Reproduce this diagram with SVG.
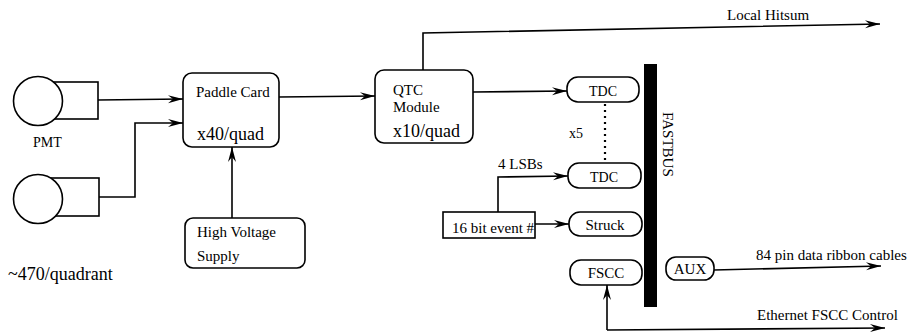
<svg xmlns="http://www.w3.org/2000/svg" width="912" height="334" viewBox="0 0 912 334" font-family="Liberation Serif, Times New Roman, Times, DejaVu Serif, serif">
<style>
.ln{fill:none;stroke:#000;stroke-width:1.6}
.bx{fill:#fff;stroke:#000;stroke-width:1.6}
.t{font-size:15px}
.s{font-size:14px}
.b{font-size:18px}
.m{font-size:18px}
.c{text-anchor:middle}
</style>
<defs>
<marker id="ah" markerUnits="userSpaceOnUse" markerWidth="20" markerHeight="12" viewBox="-16 -6 18 12" refX="0" refY="0" orient="auto">
<path d="M0,0 L-15,-4 L-10,0 L-15,4 Z" fill="#000"/>
</marker>
</defs>
<rect width="912" height="334" fill="#fff"/>
<g id="connectors">
<polyline class="ln" points="98,100 183,99" marker-end="url(#ah)"/>
<polyline class="ln" points="99,197 135,197 135,123 183,123" marker-end="url(#ah)"/>
<polyline class="ln" points="232,218 232,147" marker-end="url(#ah)"/>
<polyline class="ln" points="279,97 375,96" marker-end="url(#ah)"/>
<polyline class="ln" points="423,70 423,33 880,24" marker-end="url(#ah)"/>
<polyline class="ln" points="473,92 567,91" marker-end="url(#ah)"/>
<line x1="605" y1="104" x2="605" y2="160" stroke="#000" stroke-width="2.2" stroke-dasharray="2,4"/>
<polyline class="ln" points="498,212 498,177 568,176" marker-end="url(#ah)"/>
<polyline class="ln" points="535,224 569,224" marker-end="url(#ah)"/>
<polyline class="ln" points="714,270 881,266" marker-end="url(#ah)"/>
<polyline class="ln" points="607,330 607,285" marker-end="url(#ah)"/>
<polyline class="ln" points="607,330 885,328" marker-end="url(#ah)"/>
</g>
<g id="pmt1">
<rect class="bx" x="40" y="82" width="58" height="37"/>
<circle class="bx" cx="38" cy="101" r="24.5"/>
</g>
<g id="pmt2">
<rect class="bx" x="40" y="178" width="59" height="38"/>
<circle class="bx" cx="38" cy="199" r="24.5"/>
</g>
<g id="pmt-label">
<text class="s" x="33" y="147">PMT</text>
<text class="m" x="8" y="280">~470/quadrant</text>
</g>
<g id="paddle">
<rect class="bx" x="183" y="73" width="96" height="74" rx="9"/>
<text class="t" x="196" y="97">Paddle Card</text>
<text class="b" x="197" y="140">x40/quad</text>
</g>
<g id="hv">
<rect class="bx" x="185" y="218" width="120" height="50" rx="8"/>
<text class="t" x="197" y="237">High Voltage</text>
<text class="t" x="197" y="261">Supply</text>
</g>
<g id="qtc">
<rect class="bx" x="375" y="70" width="98" height="73" rx="9"/>
<text class="t" x="393" y="95">QTC</text>
<text class="t" x="393" y="112">Module</text>
<text class="b" x="393" y="137">x10/quad</text>
</g>
<g id="localhitsum">
<text class="t" x="727" y="20">Local Hitsum</text>
</g>
<g id="tdc1">
<rect class="bx" x="567" y="77" width="72" height="25" rx="11"/>
<text class="s c" x="603" y="96">TDC</text>
</g>
<g id="x5">
<text class="s" x="569" y="138">x5</text>
</g>
<g id="tdc2">
<rect class="bx" x="568" y="163" width="73" height="25" rx="11"/>
<text class="s c" x="604" y="182">TDC</text>
</g>
<g id="lsb">
<text class="t" x="498" y="169">4 LSBs</text>
</g>
<g id="event">
<rect class="bx" x="443" y="212" width="92" height="26"/>
<text class="t" x="452" y="233">16 bit event #</text>
</g>
<g id="struck">
<rect class="bx" x="569" y="212" width="73" height="24" rx="11"/>
<text class="t c" x="605" y="230">Struck</text>
</g>
<g id="fscc">
<rect class="bx" x="570" y="260" width="72" height="25" rx="11"/>
<text class="t c" x="606" y="278">FSCC</text>
</g>
<g id="fastbus">
<rect x="644" y="64" width="13" height="243" fill="#000"/>
<text class="t" transform="translate(663,112) rotate(90)">FASTBUS</text>
</g>
<g id="aux">
<rect class="bx" x="666" y="257" width="48" height="23" rx="10"/>
<text class="t c" x="690" y="274">AUX</text>
<text class="t" x="756" y="260">84 pin data ribbon cables</text>
</g>
<g id="ethernet">
<text class="t" x="757" y="320">Ethernet FSCC Control</text>
</g>
</svg>
